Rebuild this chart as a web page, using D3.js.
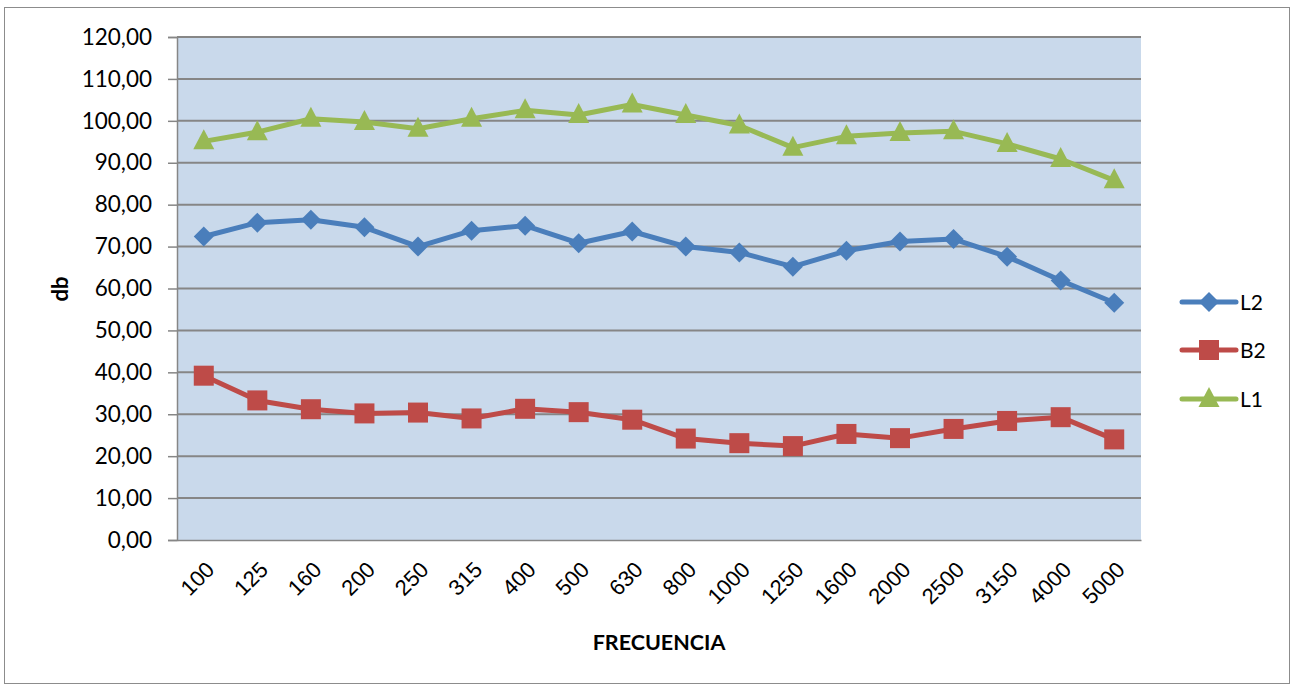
<!DOCTYPE html>
<html><head><meta charset="utf-8">
<script src="https://cdn.jsdelivr.net/npm/d3@7"></script>
<style>body{margin:0;background:#fff;}svg{display:block;font-family:Lato,"Open Sans",sans-serif;}</style>
</head><body>
<svg id="c" width="1294" height="688"></svg>
<script>
const categories = ["100","125","160","200","250","315","400","500","630","800","1000","1250","1600","2000","2500","3150","4000","5000"];
const L2 = [72.4,75.7,76.4,74.6,70.0,73.8,75.0,70.8,73.6,70.0,68.6,65.2,69.0,71.2,71.8,67.6,61.9,56.6];
const B2 = [39.2,33.3,31.2,30.2,30.4,29.0,31.3,30.5,28.7,24.2,23.1,22.4,25.3,24.3,26.5,28.4,29.3,24.0];
const L1 = [95.1,97.3,100.5,99.7,98.1,100.5,102.5,101.4,103.9,101.4,98.9,93.6,96.3,97.1,97.5,94.5,90.9,85.8];
const yTicks = [0,10,20,30,40,50,60,70,80,90,100,110,120];
const seriesNames = ["L2","B2","L1"];

const series = [
  {name:seriesNames[0], values:L2, color:"#4A7EBB", marker:"diamond"},
  {name:seriesNames[1], values:B2, color:"#BE4B48", marker:"square"},
  {name:seriesNames[2], values:L1, color:"#98B954", marker:"triangle"}
];

const svg = d3.select("#c");
const m = {left:177, right:1141, top:37, bottom:540};

svg.append("rect").attr("x",4.5).attr("y",7.5).attr("width",1285).attr("height",676)
  .attr("fill","#fff").attr("stroke","#8c8c8c").attr("stroke-width",1);

const x = d3.scaleBand().domain(categories).range([m.left, m.right]).padding(0);
const y = d3.scaleLinear().domain([0,120]).range([m.bottom, m.top]);

svg.append("rect").attr("x",m.left).attr("y",m.top).attr("width",m.right-m.left).attr("height",m.bottom-m.top)
  .attr("fill","#C9D9EB");

// gridlines
svg.append("g").selectAll("line").data(yTicks.filter(d=>d>0)).join("line")
  .attr("x1",m.left).attr("x2",m.right).attr("y1",d=>y(d)).attr("y2",d=>y(d))
  .attr("stroke","#868686").attr("stroke-width",2);

// y axis
const ya = svg.append("g").attr("transform",`translate(${m.left},0)`)
  .call(d3.axisLeft(y).tickValues(yTicks).tickSize(9).tickPadding(16)
    .tickFormat(d=>d3.format(".2f")(d).replace(".",",")));
ya.select(".domain").attr("stroke","#868686").attr("stroke-width",1.5);
ya.selectAll(".tick line").attr("stroke","#868686").attr("stroke-width",1.5);
ya.selectAll("text").attr("font-size",22.5).attr("fill","#000").attr("font-family","Lato,sans-serif");

// x axis
const xa = svg.append("g").attr("transform",`translate(0,${m.bottom})`)
  .call(d3.axisBottom(x).tickSize(0).tickPadding(0));
xa.select(".domain").attr("stroke","#868686").attr("stroke-width",1.5);
xa.selectAll(".tick text").attr("font-size",22).attr("fill","#000")
  .attr("text-anchor","end").attr("dy",0)
  .attr("transform","translate(12,31) rotate(-45)");

// axis titles
svg.append("text").attr("transform","translate(68,289) rotate(-90)").attr("text-anchor","middle")
  .attr("font-size",22).attr("font-weight","bold").text("db");
svg.append("text").attr("x",659).attr("y",650).attr("text-anchor","middle")
  .attr("font-size",21.5).attr("font-weight","bold").text("FRECUENCIA");

const cx = d => x(d) + x.bandwidth()/2;
const line = d3.line().x((d,i)=>cx(categories[i])).y(d=>y(d));

function drawMarker(g, type, px, py, color){
  if(type==="diamond"){
    g.append("path").attr("d",`M${px},${py-10}L${px+10},${py}L${px},${py+10}L${px-10},${py}Z`).attr("fill",color);
  } else if(type==="square"){
    g.append("rect").attr("x",px-10).attr("y",py-10).attr("width",20).attr("height",20).attr("fill",color);
  } else {
    g.append("path").attr("d",`M${px},${py-12}L${px+10.5},${py+8}L${px-10.5},${py+8}Z`).attr("fill",color);
  }
}

const legendY = [302, 350, 399];
series.forEach((s,si)=>{
  const g = svg.append("g");
  g.append("path").datum(s.values).attr("d",line).attr("fill","none")
    .attr("stroke",s.color).attr("stroke-width",5).attr("stroke-linejoin","round").attr("stroke-linecap","round");
  s.values.forEach((v,i)=>drawMarker(g, s.marker, cx(categories[i]), y(v), s.color));
  // legend
  const lg = svg.append("g");
  lg.append("line").attr("x1",1182).attr("x2",1236).attr("y1",legendY[si]).attr("y2",legendY[si])
    .attr("stroke",s.color).attr("stroke-width",5).attr("stroke-linecap","round");
  drawMarker(lg, s.marker, 1209, legendY[si], s.color);
  lg.append("text").attr("x",1240).attr("y",legendY[si]+8).attr("font-size",21).text(s.name);
});
</script>
</body></html>
